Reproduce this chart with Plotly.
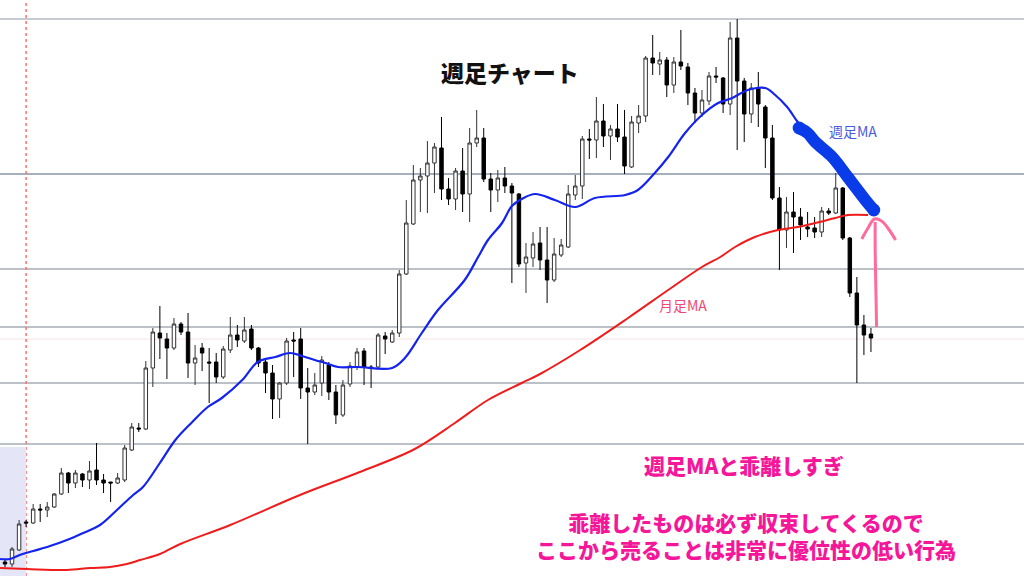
import plotly.graph_objects as go

# ---- weekly candles (price units, higher = up) ----
week = list(range(1, 125))
open_ = [14, 12, 26, 54, 53, 67, 66, 69, 82, 103, 93, 102, 96, 106, 96, 94, 93, 96, 126, 148,
         147, 208, 243, 237, 228, 252, 244, 213, 228, 214, 214, 199, 226, 241, 235, 247, 228, 214, 203, 177,
         193, 236, 237, 188, 184, 193, 211, 184, 161, 192, 209, 225, 209, 209, 240, 234, 243, 302, 352, 396,
         400, 413, 428, 387, 377, 405, 382, 433, 438, 397, 386, 398, 390, 382, 313, 318, 333, 316, 296, 321,
         329, 381, 390, 437, 436, 455, 440, 447, 439, 409, 453, 460, 518, 512, 516, 491, 514, 509, 483, 463,
         475, 500, 498, 472, 538, 495, 462, 488, 469, 438, 378, 346, 364, 359, 349, 348, 344, 365, 363, 388,
         338, 283, 251, 242]
high = [17, 29, 56, 56, 72, 72, 74, 83, 108, 104, 106, 103, 115, 133, 102, 94, 103, 131, 153, 153,
        215, 248, 270, 243, 258, 254, 263, 231, 233, 228, 223, 230, 259, 251, 259, 251, 229, 216, 211, 194,
        238, 244, 248, 208, 203, 220, 214, 191, 196, 214, 228, 228, 211, 243, 244, 246, 306, 376, 411, 408,
        435, 433, 459, 398, 408, 428, 448, 466, 448, 403, 406, 409, 393, 383, 333, 344, 349, 349, 338, 337,
        391, 401, 440, 447, 479, 472, 451, 472, 466, 460, 471, 520, 541, 524, 519, 519, 546, 513, 488, 486,
        504, 509, 499, 554, 557, 498, 493, 504, 471, 451, 389, 379, 384, 368, 364, 359, 369, 368, 403, 389,
        339, 299, 261, 248]
low = [9, 9, 25, 49, 52, 54, 59, 68, 81, 83, 88, 89, 87, 91, 83, 74, 92, 94, 125, 144,
       146, 189, 217, 197, 226, 241, 198, 191, 205, 173, 193, 197, 223, 229, 233, 226, 209, 183, 157, 158,
       191, 199, 177, 132, 181, 180, 176, 152, 159, 189, 206, 191, 188, 208, 222, 233, 239, 301, 351, 364,
       363, 383, 376, 371, 366, 364, 354, 429, 394, 364, 374, 383, 293, 309, 283, 309, 306, 273, 294, 319,
       328, 376, 377, 417, 418, 429, 416, 434, 402, 408, 443, 454, 501, 501, 479, 483, 506, 471, 453, 459,
       471, 493, 463, 461, 426, 434, 453, 449, 408, 376, 306, 328, 323, 336, 339, 338, 339, 361, 362, 336,
       279, 193, 221, 224]
close = [12, 27, 52, 53, 67, 66, 69, 82, 103, 93, 103, 96, 105, 96, 93, 93, 98, 128, 149, 147,
         208, 244, 238, 228, 252, 244, 213, 218, 223, 213, 199, 227, 241, 236, 246, 228, 213, 203, 177, 193,
         235, 235, 188, 184, 191, 216, 184, 161, 191, 210, 224, 209, 208, 241, 237, 243, 302, 353, 396, 400,
         413, 429, 387, 377, 405, 382, 433, 438, 397, 386, 398, 390, 383, 312, 319, 332, 316, 296, 322, 331,
         382, 390, 437, 436, 455, 440, 447, 439, 410, 454, 460, 518, 513, 516, 491, 514, 510, 483, 463, 476,
         500, 499, 472, 538, 495, 462, 488, 472, 438, 378, 346, 364, 359, 351, 347, 344, 365, 363, 388, 338,
         283, 251, 241, 238]

# ---- moving averages (week index, price) ----
wma_x = [0.3, 1.7, 3.1, 5.0, 7.4, 9.8, 12.1, 14.5, 16.9, 19.2, 20.6, 23.0, 25.2, 27.6, 29.8, 31.8,
         34.7, 36.9, 39.4, 41.5, 43.2, 45.0, 46.5, 48.3, 51.1, 56.0, 57.8, 60.2, 62.5, 66.3, 68.2, 69.6,
         71.6, 73.0, 74.4, 76.3, 79.1, 82.0, 84.8, 89.1, 90.9, 93.3, 95.2, 97.6, 100.0, 102.3, 104.3,
         106.5, 109.0, 110.4, 112.1, 113.6, 115.3, 118.2, 121.0, 124.3]
wma_y = [17, 17, 21, 25, 30, 36, 43, 51, 66, 81, 89, 113, 136, 154, 169, 178,
         196, 214, 219, 223, 220, 216, 213, 209, 209, 208, 218, 243, 266, 296, 319, 336,
         353, 370, 377, 382, 376, 369, 378, 381, 386, 403, 419, 443, 461, 473, 478,
         486, 488, 481, 469, 454, 441, 423, 396, 368]
mma_x = [0.3, 4.1, 9.8, 13.1, 15.9, 18.3, 20.2, 23.0, 25.9, 33.0, 42.9, 51.4, 59.2, 64.9, 69.6,
         74.4, 77.0, 82.7, 89.5, 95.2, 100.0, 102.6, 104.7, 107.5, 110.8, 113.6, 116.1, 118.9, 120.7, 123.6]
mma_y = [8, 7, 6, 8, 9, 12, 16, 22, 32, 51, 81, 104, 127, 153, 176,
         193, 202, 226, 258, 286, 309, 319, 329, 339, 346, 349, 353, 358, 361, 361]

# ---- hand-drawn marks (week index, price) ----
hl_x = [113.8, 115.0, 116.1, 118.5, 120.7, 123.2, 124.4]
hl_y = [448, 443, 434, 419, 399, 376, 366]
hl_end_x = [113.8, 124.4]
hl_end_y = [448, 366]
shaft_x = [124.8, 124.7, 124.6, 124.6]
shaft_y = [249, 286, 326, 354]
head_x = [122.7, 123.5, 124.5, 125.5, 126.5, 127.5]
head_y = [337, 347, 357, 355, 347, 336]

levels = [557, 402, 307, 249, 193, 132]
level_colors = ["#b3b9c5", "#8794a8", "#a6abb4", "#a6abb4", "#a6abb4", "#a6abb4"]

fig = go.Figure()

fig.add_shape(type="rect", xref="x", yref="y", x0=0, x1=4, y0=0, y1=129,
              fillcolor="#e4e5f6", line_width=0, layer="below")
for lv, col in zip(levels, level_colors):
    fig.add_shape(type="line", xref="paper", yref="y", x0=0, x1=1, y0=lv, y1=lv,
                  line=dict(color=col, width=1.5), layer="below")
fig.add_shape(type="line", xref="paper", yref="y", x0=0, x1=1, y0=237, y1=237,
              line=dict(color="#f6e2e4", width=1), layer="below")
fig.add_shape(type="line", xref="x", yref="paper", x0=4, x1=4, y0=0, y1=1,
              line=dict(color="#ff6f6f", width=1.5, dash="dot"), layer="below")

fig.add_trace(go.Candlestick(
    x=week, open=open_, high=high, low=low, close=close,
    increasing=dict(line=dict(color="#333333", width=1), fillcolor="#ffffff"),
    decreasing=dict(line=dict(color="#000000", width=1), fillcolor="#000000"),
    whiskerwidth=0, hoverinfo="skip", showlegend=False))

fig.add_trace(go.Scatter(x=mma_x, y=mma_y, mode="lines", line=dict(color="#f01c1c", width=2, shape="spline"),
                         hoverinfo="skip", showlegend=False))
fig.add_trace(go.Scatter(x=wma_x, y=wma_y, mode="lines", line=dict(color="#1424ee", width=2.2, shape="spline"),
                         hoverinfo="skip", showlegend=False))
fig.add_trace(go.Scatter(x=hl_x, y=hl_y, mode="lines", line=dict(color="#0a3be8", width=12, shape="spline"),
                         hoverinfo="skip", showlegend=False))
fig.add_trace(go.Scatter(x=hl_end_x, y=hl_end_y, mode="markers",
                         marker=dict(size=13, color="#0a3be8", opacity=1, line=dict(width=0)),
                         hoverinfo="skip", showlegend=False))
fig.add_trace(go.Scatter(x=shaft_x, y=shaft_y, mode="lines", line=dict(color="#ff6b9d", width=3, shape="spline"),
                         hoverinfo="skip", showlegend=False))
fig.add_trace(go.Scatter(x=head_x, y=head_y, mode="lines", line=dict(color="#ff6b9d", width=3, shape="spline"),
                         hoverinfo="skip", showlegend=False))

jp = "Noto Sans CJK JP"


def note(text, px, py, size, color, weight="normal"):
    fig.add_annotation(text=text, xref="paper", yref="paper", x=px / 1024, y=1 - py / 576,
                       showarrow=False, xanchor="center", yanchor="middle", align="center",
                       font=dict(family=jp, size=size, color=color, weight=weight))


note("週足チャート", 510, 72, 23, "#111111", 900)
note("週足MA", 853, 131, 14, "#4b5ce0")
note("月足MA", 683, 305, 14, "#f04870")
note("週足MAと乖離しすぎ", 744, 465, 21, "#f5169a", 900)
note("乖離したものは必ず収束してくるので<br>ここから売ることは非常に優位性の低い行為", 746, 535, 21, "#f5169a", 900)

fig.update_layout(
    width=1024, height=576, margin=dict(l=0, r=0, t=0, b=0),
    paper_bgcolor="#ffffff", plot_bgcolor="#ffffff",
    xaxis=dict(range=[0.29, 145.74], visible=False, rangeslider=dict(visible=False), fixedrange=True),
    yaxis=dict(range=[0, 576], visible=False, fixedrange=True),
)

fig.write_html("out.html", config={"displayModeBar": False},
               post_script="document.body.style.margin='0';document.body.style.overflow='hidden';")
